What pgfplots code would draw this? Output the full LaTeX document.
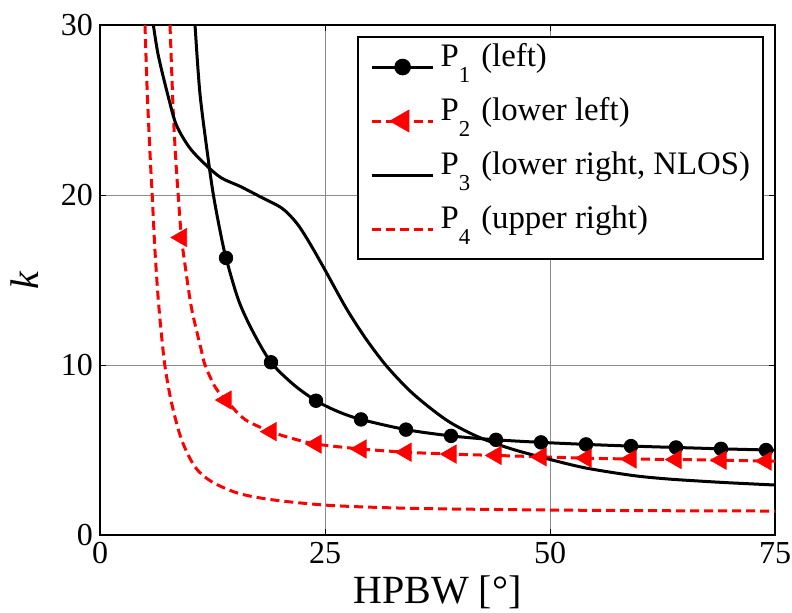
\documentclass[border=0pt]{standalone}
\usepackage{fontspec}
\setmainfont{Liberation Serif}
\usepackage{pgfplots}
\pgfplotsset{compat=1.18}
\definecolor{gridgray}{gray}{0.55}
% lowered subscript as in the legend
\newcommand{\sub}[1]{\raisebox{-8.3bp}{\fontsize{11.4bp}{12bp}\selectfont #1}\hspace{5.5bp}}

\begin{document}
\begin{tikzpicture}
\begin{axis}[
    name=ax,
    scale only axis,
    width=337.5bp, height=255bp,
    xmin=0, xmax=75, ymin=0, ymax=30,
    xtick={0,25,50,75}, ytick={0,10,20,30},
    /pgf/number format/assume math mode=true,
    ticklabel style={font=\fontsize{16bp}{18bp}\selectfont},
    grid=major,
    major grid style={gridgray, line width=0.5bp},
    tick align=inside,
    major tick length=3bp,
    tick style={black, line width=0.5bp},
    axis line style={black, line width=1bp},
    xlabel={HPBW [°]},
    ylabel={\textit{k}},
    label style={font=\fontsize{20bp}{22bp}\selectfont},
    xlabel style={at={(axis description cs:0.5,0)}, anchor=base, yshift=-34.3bp},
    ylabel style={at={(axis description cs:-0.111,0.5)}, anchor=center},
    legend image code/.code={\draw[mark repeat=2,mark phase=2,#1] plot coordinates {(0bp,0bp) (15.25bp,0bp) (30.5bp,0bp)};},
    legend style={
        at={(rel axis cs:0.9837,0.9784)}, anchor=north east,
        draw=black, line width=1bp, fill=white,
        font=\fontsize{16.4bp}{18bp}\selectfont,
        inner xsep=6.5bp, inner ysep=1.5bp,
        row sep=0pt, column sep=3bp,
        nodes={inner sep=0pt, text height=13bp, text depth=14bp},
        cells={anchor=west},
    },
    legend cell align=left,
]
% P1 (left): curve and markers
\addplot[black, line width=1.5bp, smooth, forget plot] coordinates {
 (10.56,30) (11.1,26.0) (12.0,22.2) (12.6,20.0) (13.3,18.0) (14,16.3) (15.4,13.8)
 (17,11.95) (19,10.16) (21.5,8.85) (24,7.9) (26.5,7.25) (29,6.8) (34,6.2) (39,5.83)
 (44,5.6) (49,5.45) (54,5.33) (59,5.23) (64,5.15) (69,5.07) (75,4.99)};
\addplot[black, only marks, mark=*, mark size=3.4bp, forget plot] coordinates {
 (14,16.3) (19,10.16) (24,7.9) (29,6.8) (34,6.2) (39,5.83) (44,5.6) (49,5.45)
 (54,5.33) (59,5.23) (64,5.15) (69,5.07) (74,5.0)};
% P2 (lower left)
\addplot[red, line width=1.5bp, dash pattern=on 4.5bp off 2.5bp, smooth, forget plot] coordinates {
 (7.78,30) (8.13,25) (8.43,22) (8.69,20) (9.05,17.5) (9.55,15.5) (10.05,13.7) (10.45,12.65)
 (11.2,11.0) (11.67,10.0) (12.8,8.7) (14,7.94) (16.1,6.8) (19,6.08) (21.3,5.69) (24,5.35) (29,5.06)
 (34,4.87) (39,4.76) (44,4.68) (49,4.6) (54,4.52) (59,4.47) (64,4.44) (69,4.4) (75,4.34)};
\addplot[red, only marks, mark=triangle*, mark size=5.2bp, mark options={rotate=90}, forget plot] coordinates {
 (9.05,17.5) (14,7.94) (19,6.08) (24,5.35) (29,5.06) (34,4.87) (39,4.76) (44,4.68)
 (49,4.6) (54,4.52) (59,4.47) (64,4.44) (69,4.4) (74,4.35)};
% P3 (lower right, NLOS)
\addplot[black, line width=1.5bp, smooth, forget plot] coordinates {
 (5.93,30) (6.48,28.2) (7.6,25.75) (8.5,24.1) (10.0,22.75) (11.9,21.7) (13.5,21.0)
 (15.6,20.5) (17.8,19.9) (20,19.3) (21.1,18.8) (22.2,18.1) (23.6,16.9) (25.2,15.4)
 (27.4,13.3) (29.6,11.5) (31.9,9.9) (34.8,8.3) (38.5,6.76) (41.9,5.8) (45.5,5.1)
 (49.6,4.5) (53.9,3.95) (59.2,3.5) (63,3.3) (66.7,3.17) (70,3.07) (75,2.94)};
% P4 (upper right)
\addplot[red, line width=1.5bp, dash pattern=on 4.5bp off 2.5bp, smooth, forget plot] coordinates {
 (5.0,30) (5.26,25.9) (5.6,22.0) (5.8,20) (6.1,16.8) (6.48,13.8) (6.67,12.65) (7.2,10.0)
 (7.96,7.75) (9.07,5.6) (10.56,4.0) (12.4,3.14) (15.4,2.45) (19.3,2.06) (25,1.76)
 (31,1.62) (37.8,1.54) (50,1.47) (62,1.43) (75,1.41)};

\addlegendimage{black, line width=1.5bp, mark=*, mark size=3.4bp}
\addlegendentry{P\sub{1}(left)}
\addlegendimage{red, line width=1.5bp, dash pattern=on 4.5bp off 2.5bp, mark=triangle*, mark size=5.2bp, mark options={rotate=90, solid}}
\addlegendentry{P\sub{2}(lower left)}
\addlegendimage{black, line width=1.5bp}
\addlegendentry{P\sub{3}(lower right, NLOS)}
\addlegendimage{red, line width=1.5bp, dash pattern=on 4.5bp off 2.5bp}
\addlegendentry{P\sub{4}(upper right)}
\end{axis}
\pgfresetboundingbox
\useasboundingbox ([xshift=-50bp, yshift=-38.5bp]ax.south west) rectangle ([xshift=8.5bp, yshift=12.5bp]ax.north east);
\end{tikzpicture}
\end{document}
